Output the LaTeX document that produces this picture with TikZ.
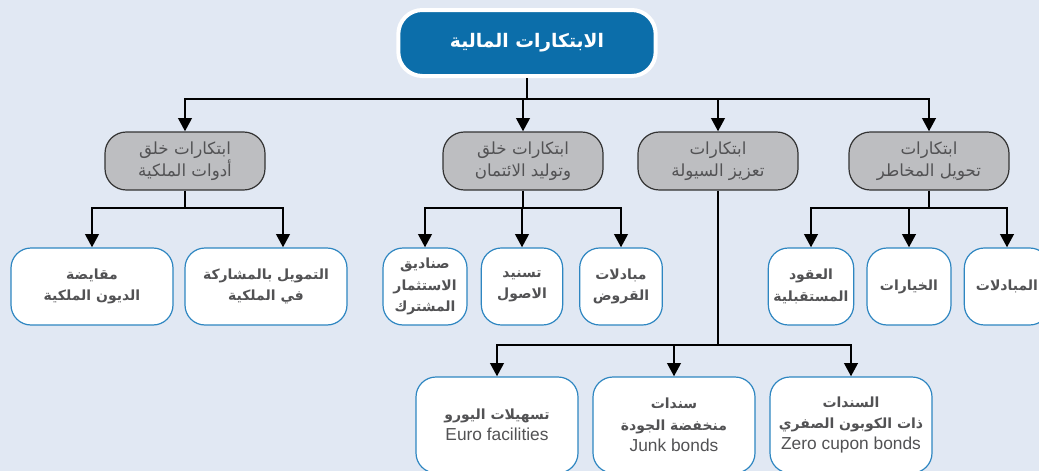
\documentclass[tikz,border=0pt]{standalone}
\usepackage{fontspec}
\setmainfont{Liberation Sans}
\newfontfamily\arabicfont[Script=Arabic]{DejaVu Sans}
\TeXXeTstate=1
\usetikzlibrary{arrows.meta}
\definecolor{InnovBack}{RGB}{225,232,243}
\definecolor{InnovBlue}{RGB}{12,110,170}
\definecolor{InnovGrey}{RGB}{189,190,193}
\definecolor{InnovEdge}{RGB}{46,134,193}
\definecolor{InnovText}{RGB}{82,82,84}
\newcommand{\ar}[1]{{\arabicfont\beginR #1\endR}}
\newcommand{\en}[1]{{\mdseries\fontsize{13}{16}\selectfont #1}}

\begin{document}
\begin{tikzpicture}[x=0.75pt,y=-0.75pt,
root/.style={fill=InnovBlue,draw=white,line width=3pt,rounded corners=18pt,minimum width=193pt,minimum height=49.5pt,text=white,font=\bfseries\fontsize{14}{17}\selectfont},
cat/.style={fill=InnovGrey,draw=black!80,line width=0.9pt,rounded corners=16pt,minimum width=120pt,minimum height=43.5pt,inner sep=1pt,text=InnovText,align=center,font=\fontsize{12.5}{16.5}\selectfont},
leaf/.style n args={2}{fill=white,draw=InnovEdge,line width=0.9pt,rounded corners=15pt,minimum width=#1pt,minimum height=#2pt,inner sep=1pt,text=InnovText,align=center,font=\bfseries\fontsize{10.5}{16}\selectfont},
stem/.style={line width=1.4pt},
bus/.style={line width=2.2pt,-{Triangle[width=10pt,length=10pt]}}]
\useasboundingbox (0,0) rectangle (1039,471);
\clip (0,0) rectangle (1039,471);
\fill[InnovBack] (0,0) rectangle (1039,471);

% root and the four branches
\node[root] (top) at (527,43) {\ar{الابتكارات المالية}};
\node[cat] (g1) at (185,161) {\ar{ابتكارات خلق}\\\ar{أدوات الملكية}};
\node[cat] (g2) at (523,161) {\ar{ابتكارات خلق}\\\ar{وتوليد الائتمان}};
\node[cat] (g3) at (718,161) {\ar{ابتكارات}\\\ar{تعزيز السيولة}};
\node[cat] (g4) at (929,161) {\ar{ابتكارات}\\\ar{تحويل المخاطر}};

% leaves
\node[leaf={121.5}{57.75}] (la) at (92,286.5) {\ar{مقايضة}\\\ar{الديون الملكية}};
\node[leaf={121.5}{57.75}] (lb) at (266,286.5) {\ar{التمويل بالمشاركة}\\\ar{في الملكية}};
\node[leaf={63}{57.75}] (lc) at (425,286.5) {\ar{صناديق}\\\ar{الاستثمار}\\\ar{المشترك}};
\node[leaf={61}{57.75}] (ld) at (522,286.5) {\ar{تسنيد}\\\ar{الاصول}};
\node[leaf={62}{57.75}] (le) at (621,286.5) {\ar{مبادلات}\\\ar{القروض}};
\node[leaf={64}{57.75}] (lf) at (811,286.5) {\ar{العقود}\\\ar{المستقبلية}};
\node[leaf={63}{57.75}] (lg) at (909,286.5) {\ar{الخيارات}};
\node[leaf={64}{57.75}] (lh) at (1007,286.5) {\ar{المبادلات}};
\node[leaf={121.5}{72}] (ma) at (497,425) {\ar{تسهيلات اليورو}\\\en{Euro facilities}};
\node[leaf={121.5}{72}] (mb) at (674,425) {\ar{سندات}\\\ar{منخفضة الجودة}\\\en{Junk bonds}};
\node[leaf={121.5}{72}] (mc) at (851,425) {\ar{السندات}\\\ar{ذات الكوبون الصفري}\\\en{Zero cupon bonds}};

% connectors
\coordinate (r1) at (0,99);
\coordinate (r2) at (0,208);
\coordinate (r3) at (0,345);
\draw[line width=2.2pt] (top.south) -- (top.south |- r1);
\foreach \g in {g1,g2,g3,g4}
   \draw[bus] (top.south |- r1) -| (\g.north);
\draw[stem] (g1.south) -- (g1.south |- r2);
\draw[bus] (g1.south |- r2) -| (la.north);
\draw[bus] (g1.south |- r2) -| ([xshift=12.75pt]lb.north);
\draw[stem] (g2.south) -- (g2.south |- r2);
\foreach \l in {lc,ld,le}
   \draw[bus] (g2.south |- r2) -| (\l.north);
\draw[stem] (g4.south) -- (g4.south |- r2);
\foreach \l in {lf,lg,lh}
   \draw[bus] (g4.south |- r2) -| (\l.north);
\draw[stem] (g3.south) -- (g3.south |- r3);
\foreach \l in {ma,mb,mc}
   \draw[bus] (g3.south |- r3) -| (\l.north);
\end{tikzpicture}
\end{document}
